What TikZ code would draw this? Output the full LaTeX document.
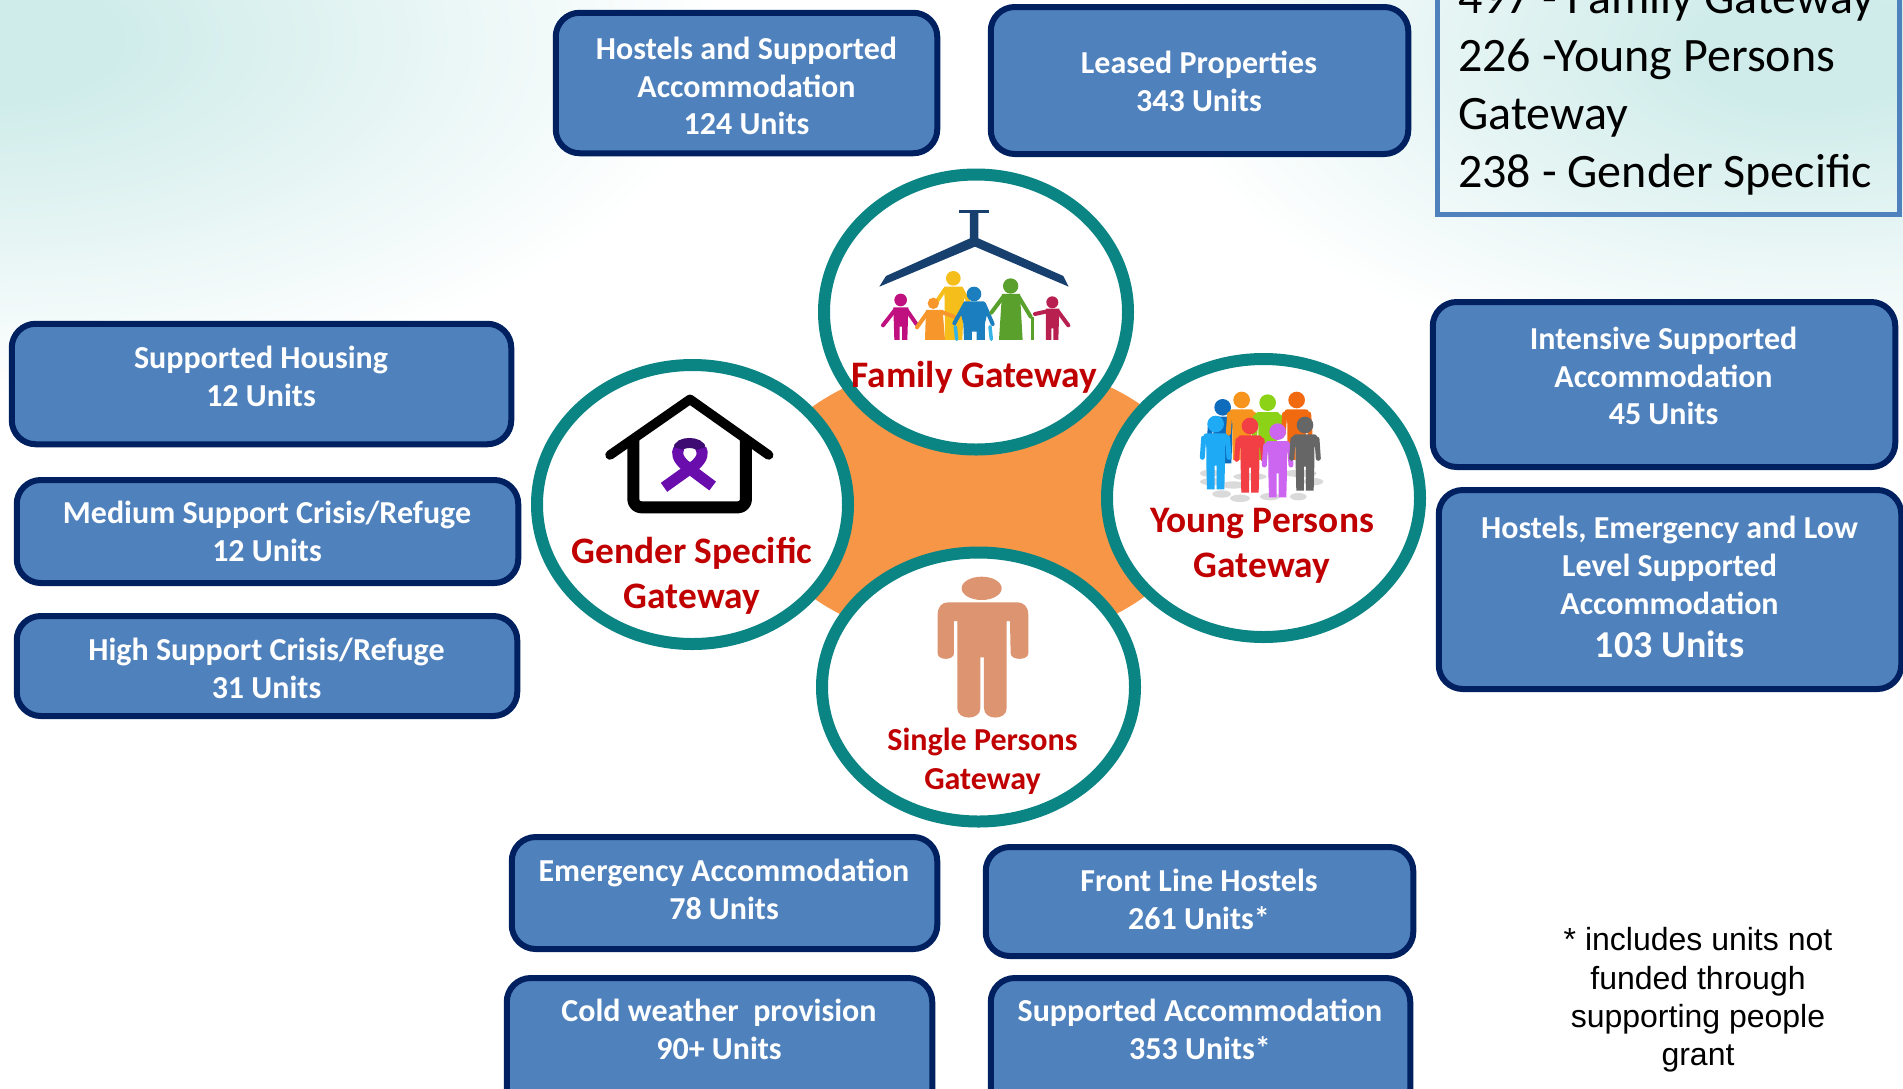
\documentclass[tikz,border=0pt]{standalone}
\usepackage{fontspec}
\setmainfont{Carlito}
\newfontfamily\arialf{Liberation Sans}
\usetikzlibrary{shapes.geometric}
\definecolor{bgteal}{HTML}{CFECEA}
\definecolor{boxfill}{HTML}{4F81BD}
\definecolor{boxline}{HTML}{002060}
\definecolor{ringc}{HTML}{0B8583}
\definecolor{orangec}{HTML}{F79646}
\definecolor{redc}{HTML}{C00000}
\definecolor{roofc}{HTML}{17406F}
\definecolor{skin}{HTML}{DD9470}
\definecolor{ribbon}{HTML}{6A0DAD}
\definecolor{ribbond}{HTML}{3E0B73}
\definecolor{fammag}{HTML}{C0107F}
\definecolor{famyel}{HTML}{F5BE1A}
\definecolor{famora}{HTML}{F7962B}
\definecolor{famblu}{HTML}{1B7FBF}
\definecolor{famsky}{HTML}{35B5E5}
\definecolor{famgre}{HTML}{5AA02C}
\definecolor{famcri}{HTML}{B8214F}
\definecolor{cwblue}{HTML}{0F6CBD}
\definecolor{cwora}{HTML}{F7941D}
\definecolor{cwgre}{HTML}{8CD317}
\definecolor{cwdor}{HTML}{F26A0F}
\definecolor{cwsky}{HTML}{1FAAF5}
\definecolor{cwred}{HTML}{F23F45}
\definecolor{cwvio}{HTML}{CC66F0}
\definecolor{cwgra}{HTML}{666666}
\definecolor{cwsha}{HTML}{DADADA}
\pgfdeclareradialshading{tealfade}{\pgfpoint{0bp}{0bp}}{color(0bp)=(bgteal); color(4bp)=(bgteal); color(24bp)=(white); color(50bp)=(white)}
\tikzset{
  ubox/.style={draw=boxline,fill=boxfill,line width=6pt,rounded corners=24pt,inner sep=0pt},
  utext/.style={text=white,align=center,inner sep=0pt,font=\fontsize{32}{37.8}\selectfont\bfseries},
  ring/.style={draw=ringc,fill=white,line width=12pt},
  glabel/.style={text=redc,align=center,inner sep=0pt,font=\fontsize{37.4}{45}\selectfont\bfseries},
  slabel/.style={text=redc,align=center,inner sep=0pt,font=\fontsize{32}{39}\selectfont\bfseries},
  legtext/.style={anchor=base west,inner sep=0pt,font=\fontsize{48}{58}\selectfont},
  limb/.style={line width=#1,line cap=round,line join=round},
}
% crowd figure: colour, head x, head y, foot y
\newcommand{\crowdman}[4]{%
  \begin{scope}[shift={(#2,#3)}]
    \fill[#1] (0,0) circle (25);
    \fill[#1] (-26,28) -- (26,28) .. controls (36,28) and (38,34) .. (34,46) -- (28,70) -- (28,120) -- (26,#4-#3) -- (3,#4-#3) -- (3,125) -- (-3,125) -- (-3,#4-#3) -- (-26,#4-#3) -- (-28,120) -- (-28,70) -- (-34,46) .. controls (-38,34) and (-36,28) .. (-26,28) -- cycle;
    \draw[#1,limb=5pt] (-36,42) -- (-40,100);
    \draw[#1,limb=5pt] (36,42) -- (40,100);
  \end{scope}}
\begin{document}
\begin{tikzpicture}[x=1pt,y=-1pt]
\useasboundingbox (0,0) rectangle (1903,1088);
\fill[white] (0,0) rectangle (1903,1088);
\begin{scope}
  \clip (0,0) rectangle (952,1088);
  \shade[shading=tealfade] (-10,40) ellipse (760 and 370);
\end{scope}
\begin{scope}
  \clip (952,0) rectangle (1903,1088);
  \shade[shading=tealfade] (1810,50) ellipse (680 and 340);
\end{scope}

% top-right legend
\node[draw=boxfill,line width=5pt,minimum width=462pt,minimum height=245pt,inner sep=0pt] (legend) at (1668.5,92) {};
\node[legtext] (l1) at (1458,13) {497 - Family Gateway};
\node[legtext] (l2) at (1458,71) {226 -Young Persons};
\node[legtext] (l3) at (1458,129) {Gateway};
\node[legtext] (l4) at (1458,187) {238 - Gender Specific};

% boxes
\node[ubox,minimum width=381.5pt,minimum height=140.5pt] (b1) at (746.5,83) {};
\node[utext] (t1) at (746.5,86) {Hostels and Supported\\Accommodation\\124 Units};
\node[ubox,minimum width=417.5pt,minimum height=147pt] (b2) at (1199.5,80.5) {};
\node[utext] (t2) at (1199,81) {Leased Properties\\343 Units};
\node[ubox,minimum width=499.5pt,minimum height=120.5pt] (b3) at (261.5,384) {};
\node[utext] (t3) at (261,376) {Supported Housing\\12 Units};
\node[ubox,minimum width=501.5pt,minimum height=103pt] (b4) at (267.5,531.5) {};
\node[utext] (t4) at (267,531.5) {Medium Support Crisis/Refuge\\12 Units};
\node[ubox,minimum width=500.5pt,minimum height=100pt] (b5) at (267,666) {};
\node[utext] (t5) at (266.5,668.5) {High Support Crisis/Refuge\\31 Units};
\node[ubox,minimum width=462.5pt,minimum height=165pt] (b6) at (1664,384.5) {};
\node[utext] (t6) at (1663.5,376) {Intensive Supported\\Accommodation\\45 Units};
\node[ubox,minimum width=462.5pt,minimum height=199pt] (b7) at (1670,589.5) {};
\node[utext] (t7) at (1669.5,565.5) {Hostels, Emergency and Low\\Level Supported\\Accommodation};
\node[utext,font=\fontsize{38}{44}\selectfont\bfseries] (t7b) at (1669.5,644.5) {103 Units};
\node[ubox,minimum width=425.5pt,minimum height=112pt] (b8) at (724.5,893) {};
\node[utext] (t8) at (724,889) {Emergency Accommodation\\78 Units};
\node[ubox,minimum width=427.5pt,minimum height=109pt] (b9) at (1199.5,901.5) {};
\node[utext] (t9) at (1199,899) {Front Line Hostels\\261 Units*};
\node[ubox,minimum width=425.5pt,minimum height=138pt] (b10) at (719.5,1047) {};
\node[utext] (t10) at (719,1029) {Cold weather~ provision\\90+ Units};
\node[ubox,minimum width=419.5pt,minimum height=138pt] (b11) at (1200.5,1047) {};
\node[utext] (t11) at (1200,1029) {Supported Accommodation\\353 Units*};

% footnote
\node[align=center,inner sep=0pt,font=\arialf\fontsize{32}{38.2}\selectfont] (note) at (1698,1000) {* includes units not\\funded through\\supporting people\\grant};

% orange hub
\node[draw=none,fill=orangec,ellipse,minimum width=444pt,minimum height=286pt,inner sep=0pt] (hub) at (978,502) {};

% rings
\node[ring,ellipse,minimum width=304pt,minimum height=275pt,inner sep=0pt] (family) at (976,312) {};
\node[ring,ellipse,minimum width=311pt,minimum height=279pt,inner sep=0pt] (gender) at (692.5,504.5) {};
\node[ring,ellipse,minimum width=313pt,minimum height=278pt,inner sep=0pt] (young) at (1263.5,498) {};
\node[ring,ellipse,minimum width=313pt,minimum height=269pt,inner sep=0pt] (single) at (978.5,687) {};

% Family icon
\begin{scope}[shift={(800,150)},x=0.3333pt,y=-0.3333pt]
  \fill[roofc] (478,180) rectangle (568,188);
  \fill[roofc] (510,186) -- (535,186) -- (535,265) -- (790,378) -- (806,410) -- (525,290) -- (238,410) -- (258,378) -- (510,265) -- cycle;
  % magenta
  \fill[fammag] (302,450) circle (19);
  \fill[fammag] (280,472) -- (325,472) -- (322,570) -- (306,570) -- (306,530) -- (299,530) -- (299,570) -- (283,570) -- cycle;
  \draw[fammag,limb=4pt] (285,480) -- (249,526);
  \draw[fammag,limb=4pt] (320,480) -- (349,522);
  % yellow
  \fill[famyel] (460,385) circle (22);
  \fill[famyel] (432,410) -- (488,410) -- (492,450) -- (487,570) -- (435,570) -- (434,450) -- cycle;
  \draw[famyel,limb=4pt] (435,418) -- (412,452);
  \draw[famyel,limb=4pt] (485,418) -- (505,455);
  % orange
  \fill[famora] (400,460) circle (17);
  \fill[famora] (378,480) -- (428,480) -- (435,570) -- (375,570) -- cycle;
  \draw[famora,limb=4pt] (382,488) -- (351,532);
  \draw[famora,limb=4pt] (425,486) -- (462,500);
  % blue
  \draw[famsky,limb=3.5pt] (466,530) -- (470,568);
  \draw[famsky,limb=3.5pt] (570,530) -- (574,568);
  \fill[famblu] (522,432) circle (22);
  \fill[famblu] (492,454) -- (552,454) -- (562,490) -- (555,520) -- (555,570) -- (530,570) -- (530,545) -- (516,545) -- (516,570) -- (492,570) -- (490,520) -- (482,490) -- cycle;
  \draw[famblu,limb=4pt] (495,462) -- (463,520);
  \draw[famblu,limb=4pt] (552,462) -- (578,522);
  % green
  \fill[famgre] (632,408) circle (23);
  \fill[famgre] (606,432) -- (660,432) -- (668,570) -- (597,570) -- cycle;
  \draw[famgre,limb=4pt] (610,440) -- (574,488);
  \draw[famgre,limb=4pt] (656,440) -- (692,500);
  \draw[famgre,line width=2.5pt] (697,500) -- (697,570);
  % crimson
  \fill[famcri] (757,457) circle (18);
  \fill[famcri] (738,476) -- (778,476) -- (775,570) -- (760,570) -- (760,535) -- (754,535) -- (754,570) -- (738,570) -- cycle;
  \draw[famcri,limb=4pt] (742,484) -- (705,492);
  \draw[famcri,limb=4pt] (774,484) -- (805,526);
\end{scope}

% Gender icon
\begin{scope}[shift={(520,350)},x=0.3333pt,y=-0.3333pt]
  \draw[black,line width=12pt,line join=round,rounded corners=8pt] (340,262) -- (340,472) -- (678,472) -- (678,262);
  \draw[black,line width=9.5pt,line cap=round,line join=round] (270,315) -- (510,148) -- (746,315);
  \draw[ribbond,line width=10pt] (476,300) .. controls (470,272) and (545,272) .. (543,300);
  \draw[ribbon,line width=11pt] (578,408) -- (494,345) .. controls (472,325) and (470,310) .. (476,296);
  \draw[ribbon,line width=11pt] (432,412) -- (526,345) .. controls (548,325) and (550,310) .. (543,296);
\end{scope}

% Young icon
\begin{scope}[shift={(1100,350)},x=0.3333pt,y=-0.3333pt]
  \foreach \ex/\ey/\erx in {335/395/35,400/405/35,365/432/28,420/445/30,640/395/30,595/440/25,510/440/30,600/370/50,330/370/30,450/380/50}
    \fill[cwsha] (\ex,\ey) ellipse ({\erx} and 11);
  \crowdman{cwblue}{368}{172}{340}
  \crowdman{cwora}{425}{150}{330}
  \crowdman{cwgre}{503}{158}{330}
  \crowdman{cwdor}{590}{150}{330}
  \crowdman{cwsky}{347}{222}{418}
  \crowdman{cwred}{450}{228}{428}
  \crowdman{cwvio}{533}{245}{442}
  \crowdman{cwgra}{615}{225}{422}
\end{scope}

% Single icon
\begin{scope}[shift={(800,540)},x=0.3333pt,y=-0.3333pt]
  \fill[skin] (545,145) ellipse (60 and 35);
  \fill[skin] (445,187) -- (650,187) .. controls (672,187) and (685,200) .. (685,225) -- (685,340) .. controls (685,362) and (632,362) .. (632,340) -- (630,243) -- (620,243) -- (620,505) .. controls (620,542) and (552,542) .. (552,505) -- (552,352) -- (541,352) -- (541,505) .. controls (541,542) and (472,542) .. (472,505) -- (472,243) -- (462,243) -- (462,340) .. controls (462,362) and (413,362) .. (413,340) -- (413,225) .. controls (413,200) and (425,187) .. (445,187) -- cycle;
\end{scope}

% gateway labels
\node[glabel] (lf) at (974.5,377.5) {Family Gateway};
\node[glabel] (lg) at (692,575.5) {Gender Specific\\Gateway};
\node[glabel] (ly) at (1262,545.5) {Young Persons\\Gateway};
\node[slabel] (ls) at (982.5,761) {Single Persons\\Gateway};
\end{tikzpicture}
\end{document}
